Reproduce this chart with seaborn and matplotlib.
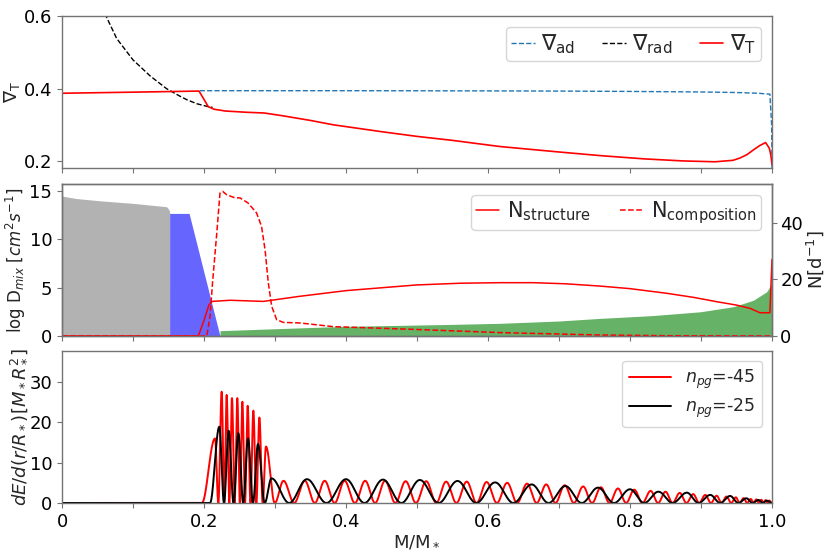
import numpy as np
import pandas as pd
import matplotlib
matplotlib.use("Agg")
import matplotlib.pyplot as plt
import seaborn as sns

# ---------------- data ----------------
# top panel: temperature gradients
grad_ad_x = [0.194, 0.30, 0.40, 0.50, 0.60, 0.70, 0.80, 0.90, 0.95, 0.98, 0.997, 0.9995, 1.0]
grad_ad_y = [0.394, 0.394, 0.394, 0.3938, 0.3935, 0.393, 0.392, 0.3905, 0.389, 0.387, 0.3845, 0.30, 0.18]

grad_rad_x = [0.050, 0.062, 0.077, 0.100, 0.124, 0.147, 0.165, 0.176, 0.190, 0.206, 0.212]
grad_rad_y = [0.690, 0.600, 0.538, 0.479, 0.435, 0.400, 0.380, 0.369, 0.358, 0.350, 0.348]

grad_T_x = [0.0, 0.10, 0.193, 0.206, 0.214, 0.230, 0.260, 0.285, 0.312, 0.35, 0.382, 0.45, 0.50,
            0.55, 0.617, 0.70, 0.758, 0.82, 0.875, 0.92, 0.945, 0.955, 0.965, 0.974, 0.983,
            0.991, 0.9963, 0.9985, 1.0]
grad_T_y = [0.387, 0.390, 0.393, 0.350, 0.343, 0.338, 0.3345, 0.3325, 0.3245, 0.312, 0.300, 0.281, 0.268,
            0.257, 0.240, 0.225, 0.215, 0.206, 0.2003, 0.198, 0.202, 0.2085, 0.218, 0.231, 0.243,
            0.251, 0.235, 0.215, 0.190]

# middle panel: mixing profile (left axis) and buoyancy frequencies (right axis)
mix_core_x = [0.0, 0.02, 0.054, 0.10, 0.1474, 0.150, 0.1515, 0.1516]
mix_core_y = [14.45, 14.2, 13.96, 13.7, 13.35, 13.1, 12.9, 0.0]
mix_ov_x = [0.1516, 0.179, 0.2225]
mix_ov_y = [12.66, 12.66, 0.0]
mix_env_x = [0.2225, 0.30, 0.40, 0.476, 0.55, 0.617, 0.70, 0.758, 0.83, 0.899, 0.946, 0.974, 0.9925, 1.0]
mix_env_y = [0.55, 0.75, 1.00, 1.10, 1.20, 1.31, 1.55, 1.82, 2.10, 2.50, 3.03, 3.70, 4.57, 5.44]

n_struct_x = [0.0, 0.192, 0.200, 0.207, 0.2117, 0.2366, 0.2836, 0.335, 0.40, 0.4995, 0.56, 0.617, 0.664,
              0.71, 0.758, 0.80, 0.852, 0.89, 0.922, 0.95, 0.969, 0.983, 0.997, 1.0]
n_struct_y = [0.0, 0.0, 5.5, 11.0, 12.2, 12.6, 12.2, 14.0, 16.0, 18.0, 18.6, 18.8, 18.8,
              18.4, 17.6, 16.7, 15.05, 13.6, 12.1, 10.9, 9.76, 8.2, 8.2, 27.0]

n_comp_x = [0.0, 0.204, 0.2085, 0.212, 0.218, 0.2225, 0.2263, 0.232, 0.2437, 0.2507, 0.262, 0.274, 0.281,
            0.286, 0.2906, 0.2953, 0.3023, 0.3117, 0.335, 0.382, 0.4995, 0.617, 0.758, 0.85, 1.0]
n_comp_y = [0.0, 0.0, 7.0, 18.7, 36.3, 50.4, 51.0, 49.8, 48.7, 48.7, 46.9, 43.4, 38.7,
            30.4, 18.7, 10.5, 5.76, 4.8, 4.6, 3.3, 2.3, 1.2, 0.35, 0.1, 0.0]

# bottom panel: mode energy density, lobe peak positions / heights
red_start, red_end = 0.197, 1.0
red_peak_x = [0.2155, 0.2249, 0.2319, 0.2394, 0.2469, 0.2540, 0.2615, 0.2695, 0.2780, 0.2873,
              0.312, 0.342, 0.370, 0.398, 0.427, 0.455, 0.484, 0.513, 0.541, 0.570, 0.598,
              0.627, 0.655, 0.682, 0.708, 0.734, 0.759, 0.783, 0.806, 0.829, 0.850, 0.870,
              0.889, 0.906, 0.922, 0.936, 0.949, 0.960, 0.970, 0.978, 0.985, 0.991, 0.996]
red_peak_h = [16.0, 27.6, 26.8, 26.0, 26.0, 25.1, 24.1, 22.9, 21.2, 14.0,
              5.5, 5.5, 5.5, 5.5, 5.5, 5.5, 5.4, 5.4, 5.3, 5.3, 5.2,
              5.0, 4.8, 4.6, 4.4, 4.1, 3.9, 3.6, 3.3, 3.0, 2.8, 2.5,
              2.2, 2.0, 1.8, 1.6, 1.4, 1.2, 1.0, 0.9, 0.8, 0.7, 0.6]
black_start, black_end = 0.2085, 1.0
black_peak_x = [0.2216, 0.2347, 0.2484, 0.2620, 0.2760,
                0.295, 0.345, 0.400, 0.452, 0.504, 0.557, 0.610, 0.6615, 0.709, 0.755,
                0.800, 0.840, 0.880, 0.913, 0.941, 0.964, 0.981, 0.9925]
black_peak_h = [18.9, 17.9, 17.3, 16.0, 14.6,
                6.1, 5.9, 5.9, 5.8, 5.7, 5.46, 5.1, 4.6, 4.2, 3.8,
                3.4, 2.8, 2.56, 2.0, 1.74, 1.16, 0.74, 0.58]

xticks = [0.0, 0.1, 0.2, 0.3, 0.4, 0.5, 0.6, 0.7, 0.8, 0.9, 1.0]
xtick_labels = ["0", "", "0.2", "", "0.4", "", "0.6", "", "0.8", "", "1.0"]


def lobe_curve(start, end, peak_x, peak_h, npts=40):
    """Energy density drawn as smooth lobes between nodes (midpoints of peaks)."""
    px = np.asarray(peak_x)
    nodes = np.concatenate([[start], 0.5 * (px[1:] + px[:-1]), [end]])
    xs, ys = [0.0, start], [0.0, 0.0]
    for a, p, b, h in zip(nodes[:-1], px, nodes[1:], peak_h):
        t1 = np.linspace(a, p, npts, endpoint=False)[1:]
        t2 = np.linspace(p, b, npts, endpoint=False)
        xs.extend(t1); ys.extend(h * np.sin(0.5 * np.pi * (t1 - a) / (p - a)) ** 2)
        xs.extend(t2); ys.extend(h * np.sin(0.5 * np.pi * (b - t2) / (b - p)) ** 2)
    xs.append(end); ys.append(0.0)
    return pd.DataFrame({"x": xs, "y": ys})


# ---------------- style ----------------
sns.set_style("white")
plt.rcParams.update({
    "font.family": ["DejaVu Sans"],
    "axes.edgecolor": "0.45",
    "axes.linewidth": 1.0,
    "xtick.color": "0.45",
    "ytick.color": "0.45",
    "xtick.labelcolor": "black",
    "ytick.labelcolor": "black",
    "xtick.bottom": True,
    "ytick.left": True,
    "xtick.major.size": 3.5,
    "ytick.major.size": 3.5,
    "xtick.labelsize": 13,
    "ytick.labelsize": 13,
    "axes.labelsize": 13,
})

fig = plt.figure(figsize=(8.3, 5.54), dpi=100)
L, W = 62 / 830, 710 / 830
ax1 = fig.add_axes([L, 0.6962, W, 0.2749])
ax2 = fig.add_axes([L, 0.3935, W, 0.2744])
ax3 = fig.add_axes([L, 0.0921, W, 0.2744])

# ---- top ----
sns.lineplot(x=grad_ad_x, y=grad_ad_y, ax=ax1, color="tab:blue", linestyle="--", linewidth=1.0,
             sort=False, label=r"$\nabla_{\rm ad}$")
sns.lineplot(x=grad_rad_x, y=grad_rad_y, ax=ax1, color="black", linestyle="--", linewidth=1.0,
             sort=False, label=r"$\nabla_{\rm rad}$")
sns.lineplot(x=grad_T_x, y=grad_T_y, ax=ax1, color="red", linestyle="-", linewidth=1.2,
             sort=False, label=r"$\nabla_{\rm T}$")
ax1.set_xlim(0, 1)
ax1.set_ylim(0.18, 0.6)
ax1.set_yticks([0.2, 0.4, 0.6])
ax1.set_yticklabels(["0.2", "0.4", "0.6"])
ax1.set_xticks(xticks)
ax1.set_xticklabels([])
ax1.set_ylabel(r"$\nabla_{\rm T}$")
ax1.legend(loc="upper right", ncol=3, fontsize=15.5, handlelength=1.1, handletextpad=0.3,
           columnspacing=1.25, borderpad=0.25, borderaxespad=0.0,
           bbox_to_anchor=(0.9845, 0.928))

# ---- middle ----
ax2.fill_between(mix_core_x, 0, mix_core_y, color="gray", alpha=0.6, linewidth=0)
ax2.fill_between(mix_ov_x, 0, mix_ov_y, color="blue", alpha=0.6, linewidth=0)
ax2.fill_between(mix_env_x, 0, mix_env_y, color="green", alpha=0.6, linewidth=0)
ax2.set_xlim(0, 1)
ax2.set_ylim(0, 15.7)
ax2.set_yticks([0, 5, 10, 15])
ax2.set_xticks(xticks)
ax2.set_xticklabels([])
ax2.set_ylabel(r"log D$_{mix}$ $[cm^2s^{-1}]$", fontsize=12)

ax2b = ax2.twinx()
sns.lineplot(x=n_struct_x, y=n_struct_y, ax=ax2b, color="red", linestyle="-", linewidth=1.1,
             sort=False, label=r"N$_{\rm structure}$")
sns.lineplot(x=n_comp_x, y=n_comp_y, ax=ax2b, color="red", linestyle="--", linewidth=1.1,
             sort=False, label=r"N$_{\rm composition}$")
ax2b.set_ylim(0, 53.6)
ax2b.set_yticks([0, 20, 40])
ax2b.tick_params(axis="y", right=True, labelright=True, labelsize=13, color="0.45", pad=2.5)
ax2b.set_ylabel(r"N$[{\rm d}^{-1}]$", fontsize=13)
ax2b.yaxis.set_label_coords(1.046, 0.5)
ax2b.legend(loc="upper right", ncol=2, fontsize=15, handlelength=1.1, handletextpad=0.4,
            columnspacing=1.4, borderpad=0.2, borderaxespad=0.0,
            bbox_to_anchor=(0.9845, 0.928))

# ---- bottom ----
red_df = lobe_curve(red_start, red_end, red_peak_x, red_peak_h)
black_df = lobe_curve(black_start, black_end, black_peak_x, black_peak_h)
sns.lineplot(data=red_df, x="x", y="y", ax=ax3, color="red", linewidth=1.4, sort=False,
             estimator=None, label=r"$n_{pg}$=-45")
sns.lineplot(data=black_df, x="x", y="y", ax=ax3, color="black", linewidth=1.4, sort=False,
             estimator=None, label=r"$n_{pg}$=-25")
ax3.set_xlim(0, 1)
ax3.set_ylim(0, 37.7)
ax3.set_yticks([0, 10, 20, 30])
ax3.set_xticks(xticks)
ax3.set_xticklabels(xtick_labels)
ax3.set_xlabel(r"M/M$_*$", labelpad=1)
ax3.set_ylabel(r"$dE/d(r/R_*)[M_*R_*^2]$")
ax3.legend(loc="upper right", fontsize=12.5, handlelength=2.4, labelspacing=0.35,
           borderaxespad=0.0, bbox_to_anchor=(0.986, 0.934))

ax1.yaxis.set_label_coords(-0.056, 0.5)
for ax in (ax2, ax3):
    ax.yaxis.set_label_coords(-0.048, 0.5)

fig.savefig("out.png", dpi=100)
